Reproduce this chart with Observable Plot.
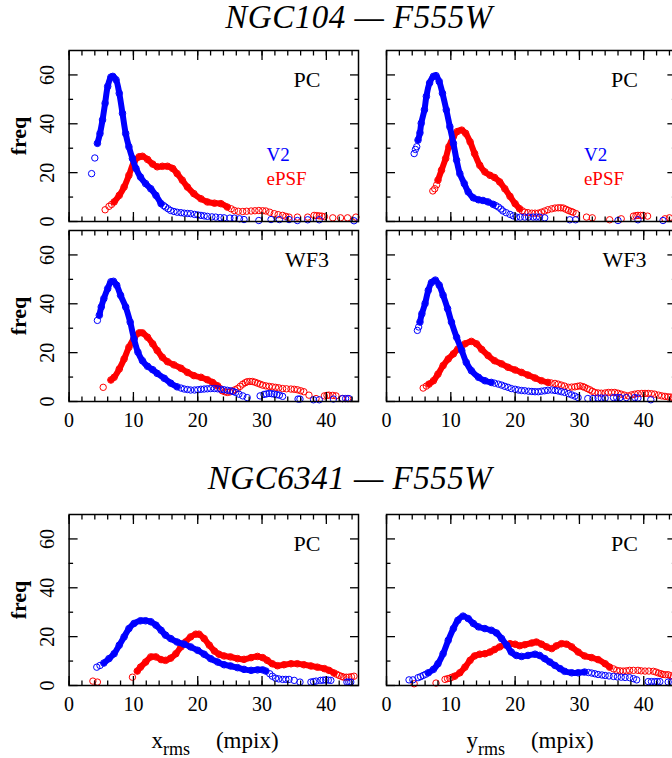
<!DOCTYPE html>
<html><head><meta charset="utf-8">
<script src="https://cdn.jsdelivr.net/npm/d3@7"></script>
<script src="https://cdn.jsdelivr.net/npm/@observablehq/plot@0.6"></script>
<style>
body{margin:0;background:#fff;overflow:hidden}
#root{position:relative;width:672px;height:758px;overflow:hidden;font-family:"Liberation Serif",serif;color:#000}
.panel{position:absolute}
.title{position:absolute;font-style:italic;font-size:33px;white-space:nowrap;line-height:1;transform:translateX(-50%);letter-spacing:0.5px}
.axt{position:absolute;font-size:23px;white-space:nowrap;line-height:1;transform:translateX(-50%)}
.sub{font-size:18px;position:relative;top:7px}
</style></head><body><div id="root"></div>
<script>
// ---------- tick values ----------
const xMajor = [0, 10, 20, 30, 40];
const xMinor = [0, 2, 4, 6, 8, 10, 12, 14, 16, 18, 20, 22, 24, 26, 28, 30, 32, 34, 36, 38, 40, 42, 44];
const yMajor = [0, 20, 40, 60];
const yMinor = [10, 30, 50];
const titles = ["NGC104 \u2014 F555W", "NGC6341 \u2014 F555W"];
const panelNames = ["PC", "WF3", "PC"];
const legendNames = ["V2", "ePSF"];

// ---------- NGC104 PC, x_rms ----------
const n104_pc_x_V2_band = [[4.4,32],[4.8,36],[5.2,41.6],[5.6,48.4],[6.0,55.3],[6.5,59.1],[6.8,59.4],[7.3,58],[7.8,52.5],[8.3,44.3],[8.8,36],[9.3,30.6],[9.85,25.8],[10.4,21.7],[11.1,18.2],[11.9,15.5],[12.7,13.4],[13.5,10.7],[14.3,7.3]];
const n104_pc_x_V2_tail = [[3.5,19.6],[4.0,26],[14.7,6.5],[15.0,5.9],[15.4,5.2],[15.8,4.5],[16.3,4.1],[16.8,3.8],[17.4,3.6],[17.9,3.4],[18.4,3.3],[18.9,3.2],[19.5,2.9],[20.0,2.7],[20.5,2.5],[21.0,2.3],[21.5,2.1],[22.2,1.9],[22.8,1.8],[23.5,1.6],[24.1,1.5],[25.0,1.4],[25.7,1.4],[26.5,1.1],[27.2,0.8],[29.5,0.4],[31.4,0.8],[32.7,0.8],[34.2,0.8],[35.5,0.4],[37.1,0.7],[38.9,0.7],[44.3,0.3]];
const n104_pc_x_ePSF_band = [[7.0,8],[7.8,10.7],[8.55,14.1],[9.3,18.9],[10.1,24.4],[10.9,26.5],[11.4,26.7],[12.2,25.4],[13.0,23.5],[13.7,22.4],[14.5,22.6],[15.3,22.6],[16.1,21.7],[16.8,19.6],[17.6,16.9],[18.4,14.1],[19.4,11.4],[20.5,9.3],[21.5,8],[22.6,7.5],[23.6,7.3],[24.6,5.9]];
const n104_pc_x_ePSF_tail = [[5.6,4.8],[6.2,6.2],[6.6,7],[25.2,5.2],[25.7,4.5],[26.3,4.2],[27.0,4.1],[27.6,4.2],[28.3,4.3],[28.9,4.4],[29.5,4.5],[30.1,4.4],[30.6,4.3],[31.2,3.8],[31.9,3.2],[32.5,2.8],[33.2,2.5],[33.7,2.1],[34.2,1.8],[35.5,1.8],[37.1,1.8],[38.1,2.5],[38.5,2.4],[38.9,2.3],[39.3,2.2],[39.7,2],[41.0,1.5],[42.2,1.5],[43.3,1.5],[44.6,1.8]];

// ---------- NGC104 PC, y_rms ----------
const n104_pc_y_V2_band = [[4.9,33.3],[5.2,36.3],[5.4,40.2],[5.9,45.7],[6.2,51.2],[6.7,56.7],[7.3,59.4],[7.7,59.7],[8.2,57.3],[8.7,52.5],[9.3,45.7],[9.85,38.8],[10.4,32],[10.9,25.1],[11.4,19.6],[12.1,15.5],[12.7,12.1],[13.5,9.7],[14.3,8.9],[15.0,8.6],[15.8,8],[16.6,7]];
const n104_pc_y_V2_tail = [[4.3,27.8],[4.5,29.5],[4.7,30.6],[17.0,6.5],[17.4,5.9],[17.8,5.1],[18.1,4.3],[18.6,3.6],[19.2,2.9],[19.7,2.3],[20.2,1.8],[20.8,1.8],[21.5,1.8],[22.1,1.8],[22.8,1.8],[23.3,1.8],[23.8,1.8],[24.6,1.5],[28.5,0.7],[29.4,0.7],[36.0,0.4],[39.1,0.7],[43.0,0.4]];
const n104_pc_y_ePSF_band = [[8.0,16.9],[8.55,21],[9.2,25.8],[9.7,30.6],[10.4,34.7],[11.0,36.8],[11.7,37.4],[12.3,36.1],[13.0,32.6],[13.7,27.8],[14.5,23],[15.3,20.3],[16.1,18.9],[16.8,18],[17.6,16.2],[18.4,13.4],[19.2,10.3],[20.0,7.3],[20.7,5.2]];
const n104_pc_y_ePSF_tail = [[7.2,12.5],[7.5,13.4],[7.8,15],[21.1,4.4],[21.5,3.8],[22.0,3.6],[22.6,3.4],[23.1,3.4],[23.6,3.4],[24.1,3.8],[24.6,4.3],[25.1,4.8],[25.7,5.2],[26.2,5.5],[26.7,5.6],[27.1,5.6],[27.5,5.5],[27.9,5],[28.3,4.5],[28.7,4.1],[29.0,3.8],[29.5,3.2],[31.1,1.8],[32.0,1.5],[34.7,0.7],[36.5,1.1],[38.4,2.2],[38.8,2.4],[39.1,2.5],[39.5,2.5],[39.9,2.5],[40.6,2.2],[43.3,1.1],[44.0,1.5]];

// ---------- NGC104 WF3, x_rms ----------
const n104_wf3_x_V2_band = [[4.7,35.3],[5.0,38.7],[5.4,42.1],[6.0,46.2],[6.5,49],[6.9,49.2],[7.4,47.6],[8.0,43.5],[8.8,38.7],[9.5,32.5],[10.1,25.6],[10.7,20.2],[11.4,16.7],[12.2,14.4],[13.0,13],[13.7,11.5],[14.8,9.5],[15.8,7.5],[16.8,6]];
const n104_wf3_x_V2_tail = [[4.4,33.2],[17.4,5.5],[17.9,5.1],[18.4,4.9],[18.9,4.7],[19.5,4.7],[20.0,4.8],[20.5,5],[21.0,5.1],[21.5,5.2],[22.0,5.3],[22.6,5.3],[23.1,5.2],[23.6,5],[24.1,4.8],[24.6,4.6],[25.1,4.4],[25.5,4.1],[25.9,3.7],[26.4,3],[27.0,2.3],[27.7,1.6],[29.7,2.3],[30.3,2.9],[30.7,3.1],[31.1,3.3],[31.5,3.2],[31.9,3],[32.3,2.8],[32.7,2.6],[33.2,2.1],[35.6,1],[35.9,1],[38.0,0.7],[38.9,0.7],[41.1,1],[42.5,1.2],[43.0,1.2],[43.5,1.2]];
const n104_wf3_x_ePSF_band = [[6.5,8.8],[7.0,9.9],[7.8,13.3],[8.55,17.4],[9.3,22.2],[10.1,25.9],[10.9,28.1],[11.4,28.1],[12.2,26.3],[13.0,23.6],[13.7,20.9],[14.5,18.1],[15.3,16.3],[16.3,15],[17.4,13.6],[18.4,11.9],[19.4,10.6],[20.5,9.9],[21.5,8.9],[22.3,7.8],[23.1,6.4]];
const n104_wf3_x_ePSF_tail = [[5.3,5.8],[23.5,5.3],[23.8,4.4],[24.2,4],[24.6,3.7],[25.0,3.9],[25.4,4.3],[25.8,4.8],[26.2,5.3],[26.6,6.2],[27.0,7.1],[27.4,7.7],[27.7,8.1],[28.1,8.2],[28.5,8.2],[28.9,7.9],[29.3,7.5],[29.7,7.1],[30.1,6.7],[30.6,6.4],[31.1,6.2],[31.6,6],[32.1,5.8],[32.6,5.6],[33.2,5.3],[33.8,5.2],[34.5,5.1],[35.0,5],[35.5,4.8],[36.0,4.4],[36.5,4],[37.3,2.6],[38.4,1.2],[39.7,2.3],[40.1,2.5],[40.4,2.6],[41.0,2.5],[41.5,2.3],[42.5,1.2],[43.3,1.2]];

// ---------- NGC104 WF3, y_rms ----------
const n104_wf3_y_V2_band = [[5.2,32.5],[5.5,35.9],[6.0,40.1],[6.5,45.5],[7.0,48.7],[7.6,49.7],[8.2,47.6],[8.8,43.5],[9.5,38],[10.1,32.5],[10.9,26.3],[11.7,20.9],[12.4,16],[13.2,12.6],[14.3,9.9],[15.3,8.5],[16.3,7.8]];
const n104_wf3_y_V2_tail = [[4.8,29.1],[5.0,30.5],[16.8,7.5],[17.4,7.1],[17.9,6.7],[18.4,6.2],[18.9,5.8],[19.4,5.3],[20.0,5],[20.5,4.7],[21.0,4.5],[21.5,4.4],[22.1,4.2],[22.6,4.1],[23.1,4],[23.6,4],[24.1,4.2],[24.6,4.4],[25.1,4.6],[25.7,4.7],[26.2,4.5],[26.7,4.3],[27.2,4],[27.7,3.7],[28.3,3.2],[28.8,2.7],[29.3,2.2],[29.8,1.6],[31.3,1.2],[32.1,1.2],[32.9,1.4],[33.4,1.4],[34.0,1.4],[35.3,1.6],[35.8,1.6],[36.3,1.6],[37.3,1.6],[38.6,1.6],[39.1,1.4],[41.1,0.7]];
const n104_wf3_y_ePSF_band = [[6.6,7.1],[7.3,8.5],[8.0,11.2],[8.8,14.7],[9.6,17.4],[10.4,19.5],[11.1,21.5],[12.2,23.6],[13.2,24.6],[14.0,23.6],[14.8,21.3],[15.8,18.8],[16.8,16.7],[17.9,15.4],[18.9,14],[20.0,12.9],[21.0,11.9],[22.0,10.8],[23.1,9.6],[24.1,8.5],[25.1,7.8]];
const n104_wf3_y_ePSF_tail = [[5.7,5.5],[6.2,6.3],[25.6,7.6],[26.2,7.4],[26.7,7.1],[27.2,6.7],[27.7,6.3],[28.3,5.8],[28.8,5.9],[29.3,6],[29.7,6.2],[30.1,6.4],[30.5,6.1],[30.8,5.8],[31.2,5.3],[31.6,4.8],[32.0,4.2],[32.4,3.7],[32.9,3.5],[33.4,3.4],[34.0,3.5],[34.5,3.7],[35.0,3.7],[35.5,3.7],[36.0,3.4],[36.5,3],[37.0,2.6],[37.6,2.3],[38.1,2.7],[38.6,3],[39.1,3.2],[39.7,3.3],[40.2,3.3],[40.7,3.3],[41.2,3.2],[41.7,3],[42.3,2.6],[42.8,2.3],[43.3,2.1],[43.8,1.9],[44.2,1.8],[44.6,1.6]];

// ---------- NGC6341 PC, x_rms ----------
const n6341_pc_x_V2_band = [[5.4,9.2],[6.2,11],[7.0,13],[7.8,16.5],[8.55,19.9],[9.3,23.3],[10.1,25.4],[11.1,26.5],[11.9,26.5],[12.7,26.1],[13.5,24.7],[14.3,22.6],[15.0,20.6],[15.8,19.2],[16.8,17.8],[17.9,16.9],[18.9,15.8],[20.0,14.4],[21.0,12.8],[22.0,11],[23.1,9.6],[24.1,8.5],[25.1,8],[26.2,7.3],[27.2,6.6],[28.3,6.2],[29.3,6.4],[30.1,6.4],[30.6,5.9]];
const n6341_pc_x_V2_tail = [[4.3,7.5],[4.8,8.2],[31.2,4.8],[31.6,3.8],[32.1,3],[32.6,2.7],[33.2,2.5],[33.7,2.5],[34.2,2.5],[35.0,2.1],[35.9,1.4],[37.6,1.4],[38.0,1.6],[38.4,1.8],[39.1,2.1],[39.5,2.2],[39.9,2.3],[40.3,2.2],[40.7,2.1],[43.2,1.4],[43.5,1.4],[43.8,1.4]];
const n6341_pc_x_ePSF_band = [[10.6,5.9],[11.1,7.5],[11.9,9.6],[12.7,11.7],[13.5,11.7],[14.3,10.6],[15.0,10.3],[15.8,11.2],[16.6,13],[17.4,15.8],[18.1,17.8],[18.9,19.9],[19.7,21],[20.2,21],[21.0,19.2],[21.8,16.5],[22.6,14.1],[23.3,12.8],[24.1,12.1],[25.1,11.7],[26.2,11],[27.2,10.7],[28.3,11.4],[29.3,11.9],[30.1,11.4],[30.8,10.3],[31.6,8.9],[32.4,8.1],[33.4,8.5],[34.5,8.9],[35.5,8.9],[36.5,8.5],[37.6,8],[38.6,7.5],[39.7,6.9],[40.4,6.2],[41.2,5.1]];
const n6341_pc_x_ePSF_tail = [[3.7,1.8],[4.4,1.4],[9.85,3.4],[41.6,4.6],[42.0,4.1],[42.4,3.7],[42.7,3.4],[43.1,3.4],[43.5,3.4],[43.9,3.6],[44.3,3.8]];

// ---------- NGC6341 PC, y_rms ----------
const n6341_pc_y_V2_band = [[6.5,5.2],[7.3,6.6],[8.0,8.9],[8.8,13],[9.6,18.5],[10.4,23.3],[11.1,26.7],[11.9,28.4],[12.7,27.4],[13.5,25.4],[14.3,24],[15.3,23.3],[16.3,22.6],[17.1,21.5],[17.9,19.2],[18.7,16.5],[19.4,13.7],[20.2,12.3],[21.0,11.9],[22.0,12.3],[23.1,12.8],[23.8,12.3],[24.6,11],[25.4,9.6],[26.2,8.2],[27.0,6.9],[27.7,5.8],[28.8,5.2],[29.8,5.2],[30.8,5.5]];
const n6341_pc_y_V2_tail = [[3.5,2.3],[4.1,2.3],[4.9,3.2],[5.3,3.6],[5.7,4.1],[6.1,4.6],[31.4,5.3],[31.9,5.1],[32.4,4.8],[32.9,4.5],[33.5,4.3],[34.0,4.1],[34.6,3.9],[35.3,3.7],[35.9,3.5],[36.5,3.4],[37.1,3.3],[37.8,3.2],[38.4,2.8],[38.9,2.3],[40.7,1.6],[41.2,1.6],[41.7,1.6],[42.1,1.6],[42.5,1.6],[43.8,1.4],[44.3,1.4]];
const n6341_pc_y_ePSF_band = [[10.6,3.8],[11.4,5.2],[12.2,7.5],[13.0,10.3],[13.7,12.1],[14.5,12.8],[15.3,13],[16.1,13.7],[16.8,14.7],[17.6,15.8],[18.4,16.7],[19.2,17.1],[20.0,16.9],[20.7,16.3],[21.5,16.7],[22.6,17.4],[23.3,17.8],[24.1,16.9],[24.9,15.8],[25.7,15.1],[26.4,16.2],[27.2,17.1],[28.0,16.9],[28.8,15.8],[29.8,13.7],[30.8,12.1],[31.9,11.4],[32.9,10.6],[34.0,8.9],[34.7,7.5]];
const n6341_pc_y_ePSF_tail = [[4.3,0.7],[7.7,1.0],[9.1,2.5],[9.5,2.8],[9.85,3],[10.2,3.4],[35.3,6.8],[35.8,6.2],[36.3,6],[36.8,5.9],[37.3,6],[37.8,6.2],[38.4,6.2],[39.1,6.2],[39.6,6],[40.2,5.9],[40.8,5.9],[41.5,5.8],[41.9,5.5],[42.3,5.1],[42.7,4.8],[43.0,4.5],[43.4,4.4],[43.8,4.4],[44.2,4],[44.6,3.7]];

// ---------- layout ----------
const BLUE = "#0000ff", RED = "#ff0000";
const FONT = "Liberation Serif";
const frameW = 289.4, frameH = 171;
const colLeft = [68.6, 385.7];
const rowTop = [50, 230, 514];

const panels = [
  {row:0, col:0, name:panelNames[0], legend:true, blueBand:n104_pc_x_V2_band, blueTail:n104_pc_x_V2_tail, redBand:n104_pc_x_ePSF_band, redTail:n104_pc_x_ePSF_tail},
  {row:0, col:1, name:panelNames[0], legend:true, blueBand:n104_pc_y_V2_band, blueTail:n104_pc_y_V2_tail, redBand:n104_pc_y_ePSF_band, redTail:n104_pc_y_ePSF_tail},
  {row:1, col:0, name:panelNames[1], legend:false, blueBand:n104_wf3_x_V2_band, blueTail:n104_wf3_x_V2_tail, redBand:n104_wf3_x_ePSF_band, redTail:n104_wf3_x_ePSF_tail},
  {row:1, col:1, name:panelNames[1], legend:false, blueBand:n104_wf3_y_V2_band, blueTail:n104_wf3_y_V2_tail, redBand:n104_wf3_y_ePSF_band, redTail:n104_wf3_y_ePSF_tail},
  {row:2, col:0, name:panelNames[2], legend:false, blueBand:n6341_pc_x_V2_band, blueTail:n6341_pc_x_V2_tail, redBand:n6341_pc_x_ePSF_band, redTail:n6341_pc_x_ePSF_tail},
  {row:2, col:1, name:panelNames[2], legend:false, blueBand:n6341_pc_y_V2_band, blueTail:n6341_pc_y_V2_tail, redBand:n6341_pc_y_ePSF_band, redTail:n6341_pc_y_ePSF_tail}
];

const root = document.getElementById("root");
const X = d => d[0], Y = d => d[1];
const noText = () => "";

function tickAxes() {
  const minor = 4.5, major = 9, sw = 1.3;
  const out = [];
  for (const anchor of ["bottom", "top"]) {
    out.push(Plot.axisX({anchor, ticks: xMinor, tickSize: -minor, tickFormat: noText, label: null, strokeWidth: sw}));
    out.push(Plot.axisX({anchor, ticks: xMajor, tickSize: -major, tickFormat: noText, label: null, strokeWidth: sw}));
  }
  for (const anchor of ["left", "right"]) {
    out.push(Plot.axisY({anchor, ticks: yMinor, tickSize: -minor, tickFormat: noText, label: null, strokeWidth: sw}));
    out.push(Plot.axisY({anchor, ticks: yMajor, tickSize: -major, tickFormat: noText, label: null, strokeWidth: sw}));
  }
  return out;
}

function makePanel(p) {
  const isLeft = p.col === 0;
  const hasXLabels = p.row > 0;
  const mL = isLeft ? colLeft[0] : 3, mR = 3, mT = 3, mB = hasXLabels ? 34 : 3;
  const marks = [];
  for (const [band, tail, c] of [[p.redBand, p.redTail, RED], [p.blueBand, p.blueTail, BLUE]]) {
    marks.push(Plot.line(band, {x: X, y: Y, stroke: c, strokeWidth: 6, curve: "catmull-rom"}));
    marks.push(Plot.dot(band, {x: X, y: Y, r: 3.3, stroke: c, strokeWidth: 1, fill: "none"}));
    marks.push(Plot.dot(tail, {x: X, y: Y, r: 3.2, stroke: c, strokeWidth: 1, fill: "none"}));
  }
  marks.push(...tickAxes());
  marks.push(Plot.frame({stroke: "#000", strokeWidth: 1.5}));
  if (hasXLabels) marks.push(Plot.axisX({anchor: "bottom", ticks: xMajor, tickSize: 0, tickPadding: 11, fontSize: 20, label: null}));
  if (isLeft) {
    marks.push(Plot.axisY({anchor: "left", ticks: yMajor, tickSize: 0, tickPadding: 15, tickRotate: -90, fontSize: 20, label: null}));
    marks.push(Plot.axisY({anchor: "left", ticks: [], tickSize: 0, label: "freq", labelAnchor: "center", labelArrow: "none", labelOffset: 59, fontSize: 22, fontWeight: "bold"}));
  }
  marks.push(Plot.text([p.name], {x: () => 37, y: () => 55, text: d => d, fontSize: 22, textAnchor: "middle", lineAnchor: "bottom", fill: "#000"}));
  if (p.legend) {
    marks.push(Plot.text([legendNames[0]], {x: () => 30.7, y: () => 24.7, text: d => d, fontSize: 19, textAnchor: "start", lineAnchor: "bottom", fill: BLUE}));
    marks.push(Plot.text([legendNames[1]], {x: () => 30.7, y: () => 14.8, text: d => d, fontSize: 19, textAnchor: "start", lineAnchor: "bottom", fill: RED}));
  }
  const svg = Plot.plot({
    width: mL + frameW + mR,
    height: mT + frameH + mB,
    marginLeft: mL, marginRight: mR, marginTop: mT, marginBottom: mB,
    x: {domain: [0, 45]},
    y: {domain: [0, 70]},
    style: {fontFamily: FONT, background: "transparent", overflow: "visible", color: "#000"},
    marks
  });
  svg.classList.add("panel");
  svg.style.left = (isLeft ? 0 : colLeft[1] - mL) + "px";
  svg.style.top = (rowTop[p.row] - mT) + "px";
  svg.style.position = "absolute";
  root.appendChild(svg);
}
panels.forEach(makePanel);

// titles & axis titles (HTML text)
function addDiv(cls, html, left, top) {
  const d = document.createElement("div");
  d.className = cls; d.innerHTML = html;
  d.style.left = left + "px"; d.style.top = top + "px";
  root.appendChild(d);
}
addDiv("title", titles[0], 359, 29 - 27.6);
addDiv("title", titles[1], 350, 490 - 27.6);
addDiv("axt", 'x<span class="sub">rms</span><span style="margin-left:26px">(mpix)</span>', 215, 748 - 19.3);
addDiv("axt", 'y<span class="sub">rms</span><span style="margin-left:26px">(mpix)</span>', 530, 748 - 19.3);
</script>
</body></html>
